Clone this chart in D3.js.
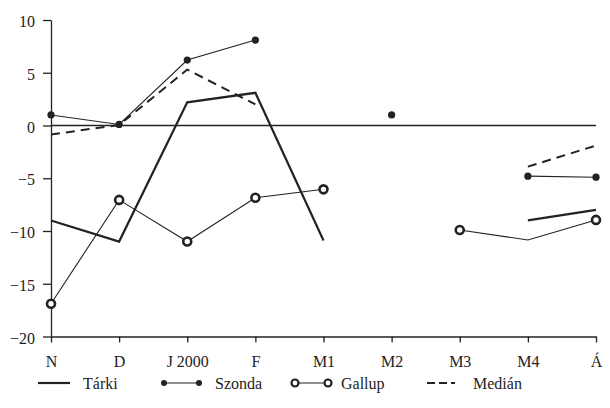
<!DOCTYPE html>
<html><head><meta charset="utf-8">
<script src="https://cdn.jsdelivr.net/npm/d3@7"></script>
<style>body{margin:0;background:#fff}svg{display:block}svg text{font-family:"Liberation Serif","DejaVu Serif",Times,serif !important;fill:#222}</style>
</head><body><svg id="c" width="610" height="408"></svg>
<script>
const categories = ["N","D","J 2000","F","M1","M2","M3","M4","Á"];
const tarki  = [-9, -11, 2.2, 3.1, -10.9, null, null, -9, -8];
const szonda = [1.0, 0.1, 6.2, 8.1, null, 1.0, null, -4.8, -4.9];
const gallup = [-16.9, -7.05, -11, -6.85, -6.05, null, -9.9, -10.85, -8.95];
const gallupMarked = [true, true, true, true, true, false, true, false, true];
const median = [-0.85, 0.05, 5.3, 2.0, null, null, null, -3.9, -1.9];
const yTicks = [-20, -15, -10, -5, 0, 5, 10];
const legendLabels = ["Tárki", "Szonda", "Gallup", "Medián"];

const FONT = '"Liberation Serif","DejaVu Serif",Times,serif';
const svg = d3.select("#c");
const x = d3.scalePoint().domain(categories).range([51, 596]);
const y = d3.scaleLinear().domain([-20, 10]).range([336.5, 20]);
const ink = "#222";

const xAxis = svg.append("g").attr("transform", `translate(0,${y(-20)})`)
  .call(d3.axisBottom(x).tickSize(6).tickPadding(13).tickSizeOuter(0));
const yAxis = svg.append("g").attr("transform", `translate(${x("N")},0)`)
  .call(d3.axisLeft(y).tickValues(yTicks).tickFormat(d => d < 0 ? "\u2212" + Math.abs(d) : d).tickSize(8).tickPadding(8).tickSizeOuter(0));
[xAxis, yAxis].forEach(g => {
  g.attr("font-family", FONT).attr("font-size", 16);
  g.selectAll("path,line").attr("stroke", ink).attr("stroke-width", 1.3);
  g.selectAll("text").attr("fill", ink);
});
yAxis.selectAll("text").attr("dy", "0.42em");

svg.append("line").attr("x1", x("N")).attr("x2", x("Á")).attr("y1", y(0)).attr("y2", y(0))
  .attr("stroke", ink).attr("stroke-width", 1.3);

const line = d3.line().defined(d => d[1] !== null).x(d => x(d[0])).y(d => y(d[1]));
const pts = arr => categories.map((c, i) => [c, arr[i]]);

svg.append("path").datum(pts(tarki)).attr("d", line).attr("fill", "none").attr("stroke", ink).attr("stroke-width", 2.2);
svg.append("path").datum(pts(median)).attr("d", line).attr("fill", "none").attr("stroke", ink).attr("stroke-width", 2).attr("stroke-dasharray", "9,6");
svg.append("path").datum(pts(szonda)).attr("d", line).attr("fill", "none").attr("stroke", ink).attr("stroke-width", 1.1);
svg.append("path").datum(pts(gallup)).attr("d", line).attr("fill", "none").attr("stroke", ink).attr("stroke-width", 1.1);

svg.selectAll(".sz").data(pts(szonda).filter(d => d[1] !== null)).enter().append("circle")
  .attr("cx", d => x(d[0])).attr("cy", d => y(d[1])).attr("r", 3.6).attr("fill", ink);
svg.selectAll(".ga").data(pts(gallup).filter((d, i) => d[1] !== null && gallupMarked[i])).enter().append("circle")
  .attr("cx", d => x(d[0])).attr("cy", d => y(d[1])).attr("r", 4).attr("fill", "#fff").attr("stroke", ink).attr("stroke-width", 2.6);

const ly = 383;
const lg = svg.append("g").attr("font-family", FONT).attr("font-size", 16);
lg.append("line").attr("x1", 38).attr("x2", 70).attr("y1", ly).attr("y2", ly).attr("stroke", ink).attr("stroke-width", 2.2);
lg.append("text").attr("x", 83).attr("y", ly).attr("dy", "0.35em").text(legendLabels[0]);
lg.append("line").attr("x1", 164).attr("x2", 199).attr("y1", ly).attr("y2", ly).attr("stroke", ink).attr("stroke-width", 1.1);
[164, 199].forEach(cx => lg.append("circle").attr("cx", cx).attr("cy", ly).attr("r", 3).attr("fill", ink));
lg.append("text").attr("x", 215).attr("y", ly).attr("dy", "0.35em").text(legendLabels[1]);
lg.append("line").attr("x1", 295).attr("x2", 328).attr("y1", ly).attr("y2", ly).attr("stroke", ink).attr("stroke-width", 1.1);
[295, 328].forEach(cx => lg.append("circle").attr("cx", cx).attr("cy", ly).attr("r", 3.5).attr("fill", "#fff").attr("stroke", ink).attr("stroke-width", 2.2));
lg.append("text").attr("x", 341).attr("y", ly).attr("dy", "0.35em").text(legendLabels[2]);
lg.append("line").attr("x1", 427).attr("x2", 455).attr("y1", ly).attr("y2", ly).attr("stroke", ink).attr("stroke-width", 2).attr("stroke-dasharray", "8,4");
lg.append("text").attr("x", 473).attr("y", ly).attr("dy", "0.35em").text(legendLabels[3]);
</script></body></html>
